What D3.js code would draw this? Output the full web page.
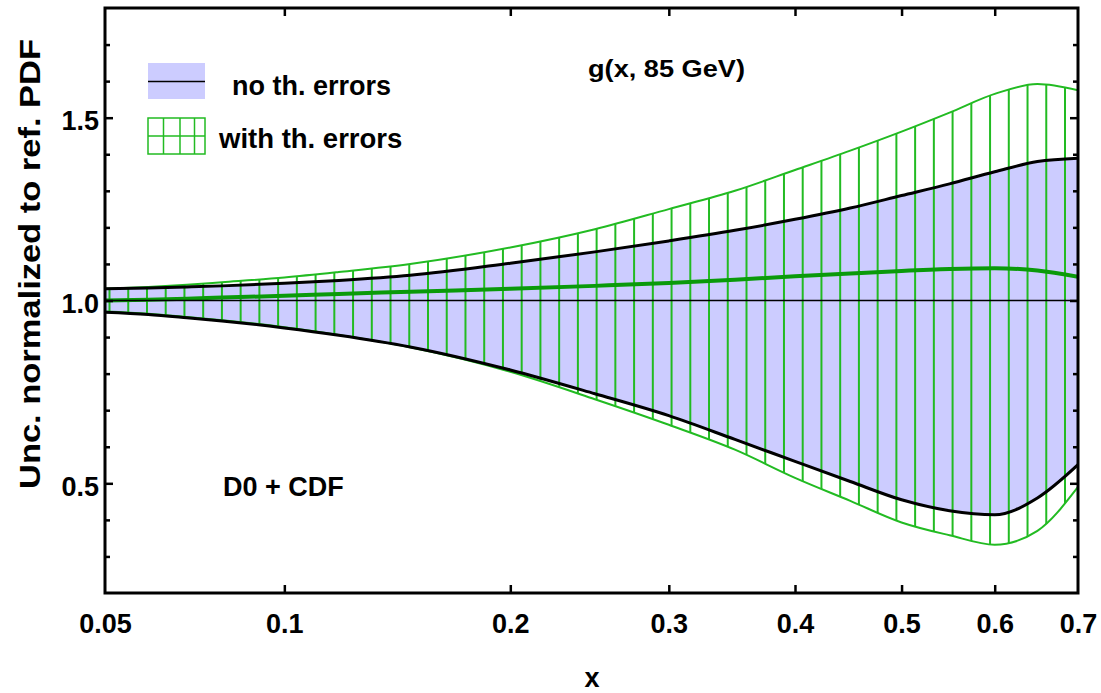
<!DOCTYPE html>
<html>
<head>
<meta charset="utf-8">
<script src="https://cdn.jsdelivr.net/npm/d3@7"></script>
<style>
  html, body { margin: 0; padding: 0; background: #fff; }
  svg { display: block; }
  text { font-family: "Liberation Sans", Arial, Helvetica, sans-serif; font-weight: bold; fill: #000; }
</style>
</head>
<body>
<svg id="chart" width="1101" height="693"></svg>
<script>
// ---- data ----
const xValues = [0.05, 0.06, 0.07, 0.08, 0.1, 0.12, 0.15, 0.2, 0.25, 0.3, 0.35, 0.4, 0.45, 0.5, 0.55, 0.6, 0.65, 0.7];
const noThUpper = [1.032, 1.034, 1.037, 1.040, 1.047, 1.055, 1.069, 1.102, 1.133, 1.163, 1.192, 1.222, 1.253, 1.287, 1.319, 1.352, 1.380, 1.389];
const noThLower = [0.968, 0.962, 0.953, 0.944, 0.925, 0.905, 0.873, 0.810, 0.745, 0.685, 0.620, 0.560, 0.505, 0.455, 0.425, 0.414, 0.460, 0.551];
const withThUpper = [1.032, 1.037, 1.043, 1.050, 1.063, 1.078, 1.100, 1.145, 1.195, 1.250, 1.300, 1.357, 1.410, 1.462, 1.514, 1.565, 1.592, 1.575];
const withThLower = [0.970, 0.964, 0.955, 0.946, 0.927, 0.906, 0.872, 0.805, 0.730, 0.660, 0.592, 0.515, 0.452, 0.393, 0.358, 0.332, 0.370, 0.490];
const central = [1.000, 1.002, 1.005, 1.008, 1.013, 1.018, 1.024, 1.032, 1.040, 1.048, 1.057, 1.066, 1.074, 1.081, 1.086, 1.088, 1.082, 1.065];

const xTickMarks = [0.1, 0.2, 0.3, 0.4, 0.5, 0.6];
const xTickLabels = [0.05, 0.1, 0.2, 0.3, 0.4, 0.5, 0.6, 0.7];
const yMajorTicks = [0.5, 1.0, 1.5];
const yMinorTicks = [0.3, 0.4, 0.6, 0.7, 0.8, 0.9, 1.1, 1.2, 1.3, 1.4, 1.6, 1.7];
const hatchCount = 52;

const legendLabels = ["no th. errors", "with th. errors"];
const titleText = "g(x, 85 GeV)";
const sampleText = "D0 + CDF";

// ---- layout ----
const L = 105, R = 1078, T = 8, B = 593;
const svg = d3.select("#chart");

const x = d3.scalePow().exponent(1 / 3).domain([0.05, 0.7]).range([L, R]);
const y = d3.scaleLinear().domain([0.2, 1.8]).range([B, T]);

const pts = arr => arr.map((v, i) => [xValues[i], v]);
const line = d3.line().x(d => x(d[0])).y(d => y(d[1])).curve(d3.curveMonotoneX);
const area = d3.area().x((d, i) => x(xValues[i])).y0(d => y(d[0])).y1(d => y(d[1])).curve(d3.curveMonotoneX);

svg.append("defs").append("clipPath").attr("id", "clip")
  .append("rect").attr("x", L).attr("y", T).attr("width", R - L).attr("height", B - T);

const plot = svg.append("g").attr("clip-path", "url(#clip)");

// blue band (no th. errors)
plot.append("path")
  .datum(noThLower.map((v, i) => [v, noThUpper[i]]))
  .attr("d", area)
  .attr("fill", "#ccccff");

// green boundaries (with th. errors)
const gUp = plot.append("path").datum(pts(withThUpper)).attr("d", line)
  .attr("fill", "none").attr("stroke", "#22bb22").attr("stroke-width", 2);
const gLo = plot.append("path").datum(pts(withThLower)).attr("d", line)
  .attr("fill", "none").attr("stroke", "#22bb22").attr("stroke-width", 2);

function yAtX(node, px) {
  const len = node.getTotalLength();
  let lo = 0, hi = len;
  for (let k = 0; k < 40; k++) {
    const mid = (lo + hi) / 2;
    if (node.getPointAtLength(mid).x < px) lo = mid; else hi = mid;
  }
  return node.getPointAtLength((lo + hi) / 2).y;
}

// hatch lines, evenly spaced in the axis' (cube-root) space
const h0 = x(0.05) + 4.5, h1 = x(0.7) - 13;
const hatchX = d3.range(hatchCount).map(i => x.invert(h0 + i * (h1 - h0) / (hatchCount - 1)));
plot.append("g").selectAll("line").data(hatchX).join("line")
  .attr("x1", d => x(d)).attr("x2", d => x(d))
  .attr("y1", d => yAtX(gUp.node(), x(d)))
  .attr("y2", d => yAtX(gLo.node(), x(d)))
  .attr("stroke", "#22bb22").attr("stroke-width", 2);

// black boundaries
[noThUpper, noThLower].forEach(arr => {
  plot.append("path").datum(pts(arr)).attr("d", line)
    .attr("fill", "none").attr("stroke", "#000").attr("stroke-width", 3);
});

// central line
plot.append("path").datum(pts(central)).attr("d", line)
  .attr("fill", "none").attr("stroke", "#0a9a0a").attr("stroke-width", 4);

// reference line at 1
plot.append("line").attr("x1", L).attr("x2", R).attr("y1", y(1)).attr("y2", y(1))
  .attr("stroke", "#000").attr("stroke-width", 1.3);

// ---- axes ----
const axisStyle = g => { g.select(".domain").remove(); g.selectAll("line").attr("stroke", "#000").attr("stroke-width", 2.5); };

svg.append("g").attr("transform", `translate(0,${B})`)
  .call(d3.axisBottom(x).tickValues(xTickMarks).tickSize(-8).tickFormat(""))
  .call(axisStyle);
svg.append("g").attr("transform", `translate(0,${T})`)
  .call(d3.axisTop(x).tickValues(xTickMarks).tickSize(-8).tickFormat(""))
  .call(axisStyle);
svg.append("g").attr("transform", `translate(${L},0)`)
  .call(d3.axisLeft(y).tickValues(yMajorTicks).tickSize(-8).tickFormat(""))
  .call(axisStyle);
svg.append("g").attr("transform", `translate(${L},0)`)
  .call(d3.axisLeft(y).tickValues(yMinorTicks).tickSize(-5).tickFormat(""))
  .call(axisStyle);
svg.append("g").attr("transform", `translate(${R},0)`)
  .call(d3.axisRight(y).tickValues(yMajorTicks).tickSize(-8).tickFormat(""))
  .call(axisStyle);
svg.append("g").attr("transform", `translate(${R},0)`)
  .call(d3.axisRight(y).tickValues(yMinorTicks).tickSize(-5).tickFormat(""))
  .call(axisStyle);

// tick labels
const xl = svg.append("g").attr("transform", `translate(0,${B})`)
  .call(d3.axisBottom(x).tickValues(xTickLabels).tickSize(0).tickPadding(0).tickFormat(d3.format("")));
xl.select(".domain").remove();
xl.selectAll("text").attr("y", 40).attr("dy", null).style("font-size", "27px").style("font-family", "Liberation Sans, Arial, sans-serif").style("font-weight", "bold");

const yl = svg.append("g").attr("transform", `translate(${L},0)`)
  .call(d3.axisLeft(y).tickValues(yMajorTicks).tickSize(0).tickPadding(6).tickFormat(d3.format(".1f")));
yl.select(".domain").remove();
yl.selectAll("text").attr("dy", "0.45em").style("font-size", "27px").style("font-family", "Liberation Sans, Arial, sans-serif").style("font-weight", "bold");

// frame
svg.append("rect").attr("x", L).attr("y", T).attr("width", R - L).attr("height", B - T)
  .attr("fill", "none").attr("stroke", "#000").attr("stroke-width", 3);

// axis titles
svg.append("text").attr("x", 592).attr("y", 687).attr("text-anchor", "middle")
  .style("font-size", "27px").text("x");
svg.append("text").attr("transform", "translate(40,264) rotate(-90)").attr("text-anchor", "middle")
  .style("font-size", "29px").attr("textLength", 450).attr("lengthAdjust", "spacingAndGlyphs")
  .text("Unc. normalized to ref. PDF");

// annotations
svg.append("text").attr("x", 588).attr("y", 77).style("font-size", "23px")
  .attr("textLength", 157).attr("lengthAdjust", "spacingAndGlyphs").text(titleText);
svg.append("text").attr("x", 223).attr("y", 496).style("font-size", "27px").text(sampleText);

// legend
const lg = svg.append("g");
lg.append("rect").attr("x", 148).attr("y", 63).attr("width", 57).attr("height", 36).attr("fill", "#ccccff");
lg.append("line").attr("x1", 148).attr("x2", 205).attr("y1", 81.5).attr("y2", 81.5).attr("stroke", "#000").attr("stroke-width", 1.3);
lg.append("text").attr("x", 232).attr("y", 95).style("font-size", "27px").text(legendLabels[0]);

lg.append("rect").attr("x", 148).attr("y", 118).attr("width", 57).attr("height", 36)
  .attr("fill", "none").attr("stroke", "#22bb22").attr("stroke-width", 1.5);
[163.5, 180, 194.5].forEach(v => lg.append("line").attr("x1", v).attr("x2", v).attr("y1", 118).attr("y2", 154).attr("stroke", "#22bb22").attr("stroke-width", 1.5));
lg.append("line").attr("x1", 148).attr("x2", 205).attr("y1", 136).attr("y2", 136).attr("stroke", "#22bb22").attr("stroke-width", 1.5);
lg.append("text").attr("x", 219).attr("y", 148).style("font-size", "27.5px").text(legendLabels[1]);
</script>
</body>
</html>
